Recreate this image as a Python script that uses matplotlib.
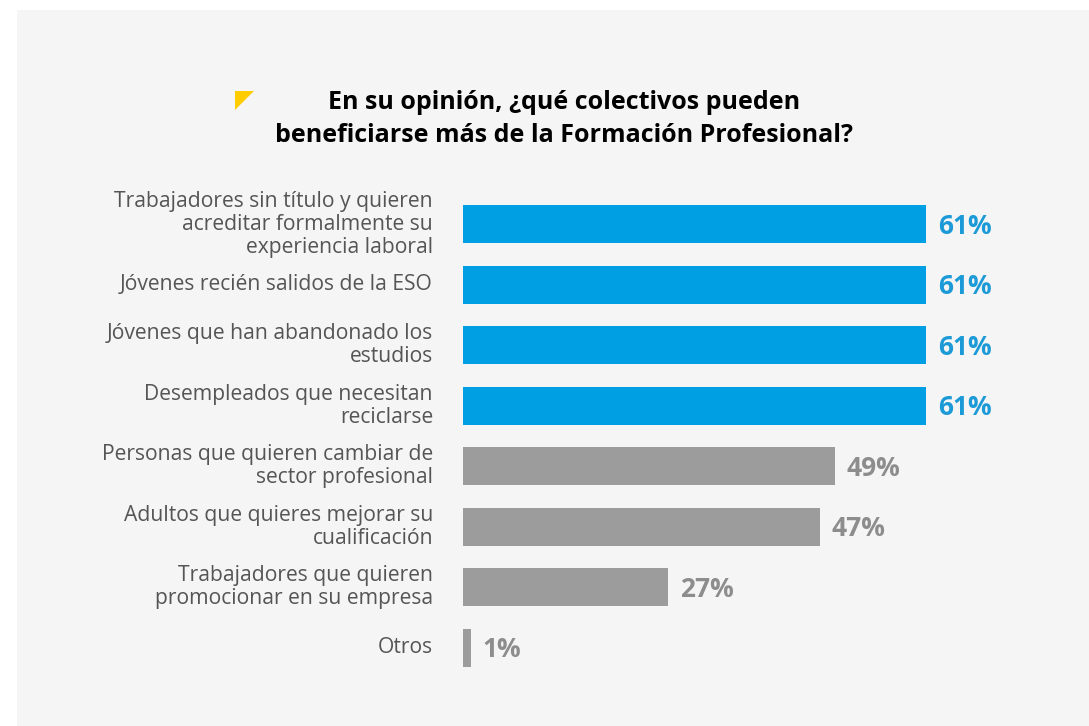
import matplotlib.pyplot as plt
from matplotlib.patches import Rectangle, Polygon

categories = [
    "Trabajadores sin título y quieren\nacreditar formalmente su\nexperiencia laboral",
    "Jóvenes recién salidos de la ESO",
    "Jóvenes que han abandonado los\nestudios",
    "Desempleados que necesitan\nreciclarse",
    "Personas que quieren cambiar de\nsector profesional",
    "Adultos que quieres mejorar su\ncualificación",
    "Trabajadores que quieren\npromocionar en su empresa",
    "Otros",
]
values = [61, 61, 61, 61, 49, 47, 27, 1]
highlight = [True, True, True, True, False, False, False, False]

title = "En su opinión, ¿qué colectivos pueden\nbeneficiarse más de la Formación Profesional?"

W, H = 1089, 726
blue = "#009fe3"
blue_txt = "#1b9ad7"
gray = "#9d9c9c"
gray_txt = "#8d8d8d"
bg = "#f5f5f5"

plt.rcParams['font.family'] = ['Open Sans', 'DejaVu Sans']

fig = plt.figure(figsize=(W / 100, H / 100), dpi=100)
fig.patch.set_facecolor("white")

# light gray panel behind everything
fig.patches.append(Rectangle((17 / W, 0), 1 - 17 / W, 1 - 10 / H,
                             transform=fig.transFigure, facecolor=bg,
                             edgecolor="none", zorder=-5))

# yellow corner marker next to the title
fig.patches.append(Polygon([(235 / W, 1 - 91 / H), (254 / W, 1 - 91 / H),
                            (235 / W, 1 - 110 / H)], closed=True,
                           transform=fig.transFigure, facecolor="#ffcc00",
                           edgecolor="none", zorder=-4))

fig.text(564 / W, 1 - 119 / H, title, ha="center", va="center",
         fontsize=18, fontweight="bold", color="black", linespacing=1.4)

# axes placed in pixel terms: x 0..61 -> 463..926 px, rows 60.5 px apart
ax = fig.add_axes([463 / W, 1 - 678 / H, (926 - 463) / W, (678 - 194) / H])
ax.set_facecolor("none")
ypos = list(range(len(values)))
colors = [blue if h else gray for h in highlight]
ax.barh(ypos, values, height=0.63, color=colors, zorder=2)
ax.set_xlim(0, 61)
ax.set_ylim(len(values) - 0.5, -0.5)
ax.axis("off")

for y, v, h, lab in zip(ypos, values, highlight, categories):
    ax.annotate("%d%%" % v, xy=(v, y), xytext=(12, -2), textcoords="offset pixels",
                ha="left", va="center", fontsize=19, fontweight="bold",
                color=blue_txt if h else gray_txt, annotation_clip=False)
    ax.annotate(lab, xy=(0, y), xytext=(-30, 0), textcoords="offset pixels",
                ha="right", va="center", fontsize=15.2, color="#555555",
                linespacing=1.12, multialignment="right", annotation_clip=False)

fig.savefig("out.png", dpi=100, facecolor=fig.get_facecolor())
